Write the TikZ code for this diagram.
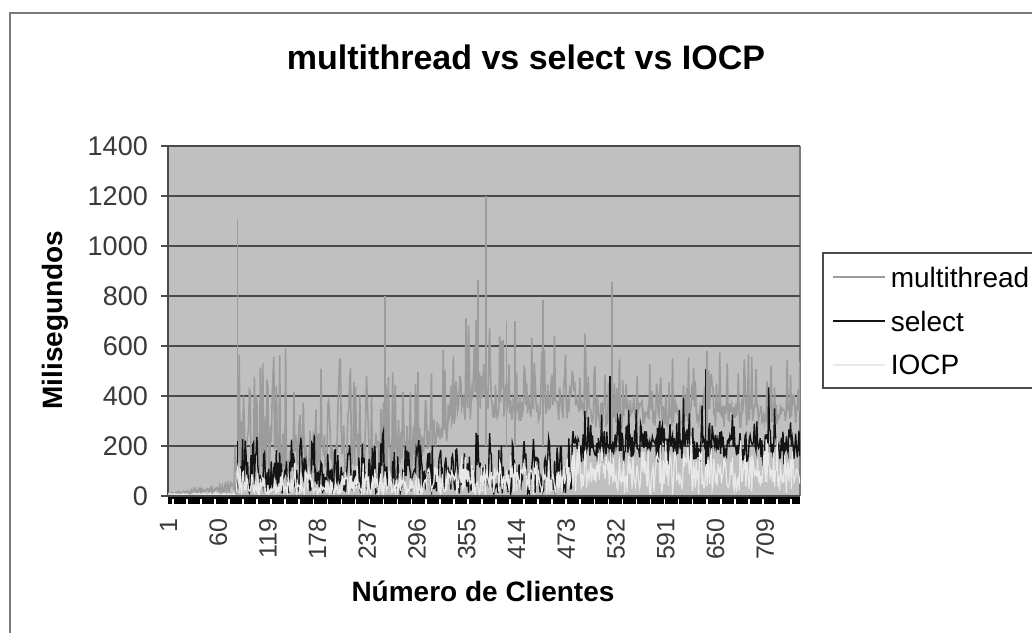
\documentclass[tikz,border=0pt]{standalone}
\usepackage{fontspec}
\setmainfont{Liberation Sans}
\usepackage{tikz}
\usetikzlibrary{positioning}
\definecolor{framegray}{HTML}{7A7A7A}
\definecolor{plotgray}{HTML}{C0C0C0}
\definecolor{gridgray}{HTML}{4A4A4A}
\definecolor{mtgray}{HTML}{9C9C9C}
\definecolor{selblack}{HTML}{141414}
\definecolor{iocpwhite}{HTML}{E8E8E8}
\definecolor{ticktext}{HTML}{3A3A3A}
\tikzset{
  charttitle/.style={font=\bfseries\fontsize{34}{40}\selectfont, inner sep=0pt},
  axistitle/.style={font=\bfseries\fontsize{28}{32}\selectfont, inner sep=0pt},
  ylab/.style={anchor=east, text=ticktext, inner sep=0pt, font=\fontsize{27}{30}\selectfont},
  xlab/.style={anchor=east, rotate=90, text=ticktext, inner sep=0pt, font=\fontsize{25}{28}\selectfont},
  gridline/.style={draw=gridgray, line width=2pt},
  mtline/.style={draw=mtgray, line width=1.6pt},
  selline/.style={draw=selblack, line width=1.4pt},
  iocpline/.style={draw=iocpwhite, line width=1.2pt},
  legtext/.style={anchor=west, inner sep=0pt, font=\fontsize{28}{32}\selectfont}
}

\begin{document}
\begin{tikzpicture}[x=1pt, y=-1pt]
  \pgfmathsetseed{20}
  \useasboundingbox (0,0) rectangle (1032,632);
  \clip (0,0) rectangle (1032,632);
  \fill[white] (0,0) rectangle (1032,632);
  \draw[framegray, line width=2pt] (10,13) rectangle (1045,645);

  \node[charttitle] (title) at (526,57) {multithread vs select vs IOCP};

  \fill[plotgray] (168,146) rectangle (800,496);
  \draw[framegray, line width=1.5pt] (800,146) -- (800,496);
  \foreach \v in {200,400,...,1400}
    \draw[gridline] (161,{496-0.25*\v}) -- (800,{496-0.25*\v});
  \foreach \v in {0,200,...,1400}
    \node[ylab] (y\v) at (148,{496-0.25*\v}) {\v};
  \draw[gridgray, line width=2pt] (168,146) -- (168,497);

  \begin{scope}
  \clip (168,146) rectangle (800,497);
  \draw[mtline] plot[samples=750, domain=1:750, variable=\k]
    ({168+(\k-0.5)*0.843}, {496-0.25*ifthenelse(\k<80, 10+0.6*\k*rnd, ifthenelse(\k<300, 70+150*rnd+380*pow(rnd,4), ifthenelse(\k<380, 150+(\k-300)*2+120*rnd+350*pow(rnd,4), ifthenelse(\k<500, 300+80*rnd+330*pow(rnd,4), 270+90*rnd+230*pow(rnd,4)))))});
  \foreach \k/\v in {83/1110, 258/800, 368/864, 378/1200, 402/700, 412/700, 445/784, 527/856, 640/580}
    \draw[mtline] ({168+(\k-0.5)*0.843},446) -- ({168+(\k-0.5)*0.843},{496-0.25*\v});

  \draw[selline] plot[samples=750, domain=1:750, variable=\k]
    ({168+(\k-0.5)*0.843}, {496-0.25*ifthenelse(\k<82, 0, ifthenelse(\k<480, 10+250*pow(rnd,1.3)*(0.3+0.7*abs(sin(13*\k))), 200+100*(rnd+rnd-1)+170*pow(rnd,12)))});
  \foreach \k/\v in {83/220, 525/480, 638/508}
    \draw[selline] ({168+(\k-0.5)*0.843},470) -- ({168+(\k-0.5)*0.843},{496-0.25*\v});

  \draw[iocpline] plot[samples=750, domain=1:750, variable=\k]
    ({168+(\k-0.5)*0.843}, {496-0.25*ifthenelse(\k<82, 12*rnd, ifthenelse(\k<330, 40*rnd+100*pow(rnd,3), ifthenelse(\k<480, 100*rnd+80*pow(rnd,3), 170*rnd+80*pow(rnd,4))))});
  \end{scope}

  \fill[black] (168,497) rectangle (800,504);
  \foreach \i in {0,...,44}
    \fill[white] ({172+\i*14.05},498.5) rectangle ++(1.6,6);
  \draw[gridline] (161,496) -- (800,496);

  \foreach \c in {1,60,...,709}
    \node[xlab] (x\c) at ({168+(\c-0.5)*0.843},518) {\c};

  \node[axistitle, rotate=90] (ytitle) at (55,320) {Milisegundos};
  \node[axistitle] (xtitle) at (483,591) {Número de Clientes};

  \draw[draw=gridgray, line width=2pt, fill=white] (823,253) rectangle (1045,388);
  \draw[mtline, line width=1.5pt] (833,277) -- (885,277) node[legtext, right=5pt] (legmt) {multithread};
  \draw[selline, line width=1.5pt] (833,321) -- (885,321) node[legtext, right=5pt] (legsel) {select};
  \draw[iocpline, line width=1.5pt] (833,365) -- (885,365) node[legtext, right=5pt] (legiocp) {IOCP};
\end{tikzpicture}
\end{document}
